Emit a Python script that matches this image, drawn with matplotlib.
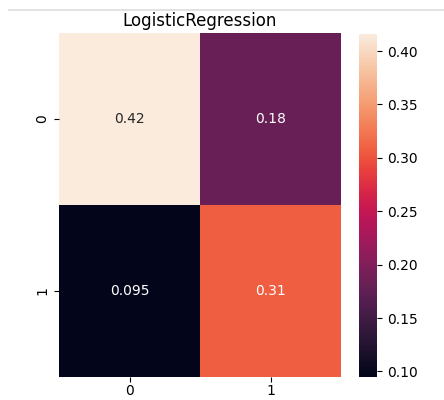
import matplotlib

matplotlib.use("Agg")
import matplotlib.pyplot as plt
import numpy as np
import seaborn as sns
from matplotlib.lines import Line2D

# Normalised confusion matrix (fractions of all samples)
labels = ["0", "1"]
row_0 = [0.416, 0.181]
row_1 = [0.095, 0.308]
title = "LogisticRegression"

cm = np.array([row_0, row_1])

fig = plt.figure(figsize=(4.44, 4.0), dpi=100)
ax = fig.add_axes([0.133, 0.058, 0.635, 0.859])
cax = fig.add_axes([0.809, 0.058, 0.040, 0.857])

sns.heatmap(cm, annot=True, fmt=".2g", ax=ax, cbar_ax=cax,
            xticklabels=labels, yticklabels=labels,
            annot_kws={"fontsize": 10})
ax.set_title(title, fontsize=12, pad=5)
ax.tick_params(labelsize=10)
ax.tick_params(axis="x", pad=2)
cax.tick_params(labelsize=10)

# screenshot residue: separator line above the chart
fig.add_artist(Line2D([0.02, 1.0], [0.975, 0.975], color="#dddddd",
                      linewidth=1.2, transform=fig.transFigure))

fig.savefig("out.png", dpi=100)
